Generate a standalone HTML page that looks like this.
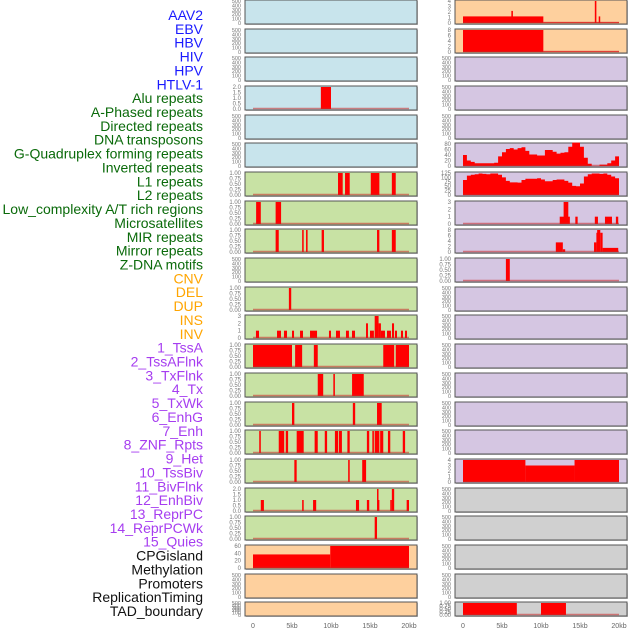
<!DOCTYPE html>
<html><head><meta charset="utf-8"><style>
html,body{margin:0;padding:0;background:#fff;}
svg{display:block;font-family:"Liberation Sans",sans-serif;}
</style></head><body>
<svg id="chart" width="630" height="630" viewBox="0 0 630 630" xmlns="http://www.w3.org/2000/svg"></svg>
<script>
// ---------- data ----------
const trackLabels = ["AAV2","EBV","HBV","HIV","HPV","HTLV-1","Alu repeats","A-Phased repeats","Directed repeats","DNA transposons","G-Quadruplex forming repeats","Inverted repeats","L1 repeats","L2 repeats","Low_complexity A/T rich regions","Microsatellites","MIR repeats","Mirror repeats","Z-DNA motifs","CNV","DEL","DUP","INS","INV","1_TssA","2_TssAFlnk","3_TxFlnk","4_Tx","5_TxWk","6_EnhG","7_Enh","8_ZNF_Rpts","9_Het","10_TssBiv","11_BivFlnk","12_EnhBiv","13_ReprPC","14_ReprPCWk","15_Quies","CPGisland","Methylation","Promoters","ReplicationTiming","TAD_boundary"];
const labelGroups = ["v","v","v","v","v","v","r","r","r","r","r","r","r","r","r","r","r","r","r","s","s","s","s","s","c","c","c","c","c","c","c","c","c","c","c","c","c","c","c","o","o","o","o","o"];
const xTicks = [0,5,10,15,20];
const xTickLabels = ["0","5kb","10kb","15kb","20kb"];

// left column segments [startKb, endKb, value]
const leftSeg3 = [[8.7,10.0,2]];
const leftSeg6 = [[10.9,11.5,1],[11.8,12.4,1],[15.1,16.2,1],[17.8,18.3,1]];
const leftSeg7 = [[0.4,1.0,1],[2.9,3.6,1]];
const leftSeg8 = [[2.9,3.3,1],[6.3,6.5,1],[6.8,7.0,1],[8.8,9.1,1],[15.9,16.2,1],[17.8,18.3,1]];
const leftSeg10 = [[4.6,4.9,1]];
const leftSeg11 = [[0.38,0.77,1],[3.08,3.59,1],[3.97,4.36,1],[5.0,5.26,1],[6.03,6.41,1],[7.31,8.21,1],[9.74,10.0,1],[10.64,11.15,1],[11.92,12.3,1],[12.69,13.08,1],[14.49,14.74,2],[15.0,15.5,1],[15.6,16.1,3],[16.1,16.4,2],[16.4,16.92,1],[17.18,17.69,1],[17.82,18.08,2],[18.2,18.46,1],[18.97,19.23,1],[19.49,19.74,1]];
const leftSeg12 = [[0,5.0,1],[5.4,6.3,1],[7.8,8.3,1],[16.7,18.1,1],[18.3,20,1]];
const leftSeg13 = [[8.3,9.0,1],[10.3,10.5,1],[12.7,14.2,1]];
const leftSeg14 = [[5.0,5.3,1],[12.8,13.1,1],[15.9,16.5,1]];
const leftSeg15 = [[0.8,1.0,1],[3.3,4.0,1],[4.2,4.5,1],[5.6,6.5,1],[7.9,8.3,1],[9.2,9.5,1],[10.5,10.9,1],[11.0,11.4,1],[12.1,12.4,1],[14.6,14.9,1],[15.3,15.5,1],[15.6,16.2,1],[16.3,16.7,1],[17.3,17.6,1],[19.2,19.5,1]];
const leftSeg16 = [[5.3,5.6,1],[12.2,12.4,1],[14.0,14.5,1]];
const leftSeg17 = [[1.0,1.4,1],[6.3,6.5,1],[7.7,8.1,1],[13.2,13.6,1],[14.6,14.9,1],[15.9,16.0,2],[16.0,16.2,1],[17.6,17.8,1],[17.8,18.1,2],[19.7,20,1]];
const leftSeg18 = [[15.6,15.9,1]];
const leftSeg19 = [[0,9.9,37],[9.9,20,60]];

// right column
const rightSeg0 = [[0,10.3,1.2],[6.2,6.4,2.2],[10.3,20,0.12],[16.9,17.1,4],[17.4,17.5,1.2]];
const rightSeg1 = [[0,10.3,8],[10.3,20,0.2]];
const rightProfile5 = [40,20,15,10,10,10,10,10,12,35,50,62,65,60,65,68,55,42,42,38,38,58,58,52,45,48,50,70,85,85,70,30,8,0,0,5,5,10,20,35];
const rightProfile6 = [85,110,115,118,122,120,118,122,122,115,100,80,72,72,70,85,92,92,92,95,88,78,78,85,88,88,80,70,52,50,65,105,118,122,122,120,122,115,105,95];
const rightSeg7 = [[12.4,13.7,1],[12.9,13.5,3],[14.4,14.7,1],[16.9,17.3,1],[18.2,19.1,1],[19.6,19.9,1]];
const rightSeg8 = [[11.9,12.8,3.5],[12.8,13.1,1],[16.8,17.1,3.5],[17.1,17.2,7],[17.2,17.6,8],[17.6,17.9,7],[17.9,19.9,1.5]];
const rightSeg9 = [[5.5,6.0,1]];
const rightSeg16 = [[0,8.0,4],[8.0,14.3,3],[14.3,20,4]];
const rightSeg21 = [[0,6.9,1],[10.0,13.2,1]];

// ---------- layout / styles ----------
const COLORS = {v:"#1a1aff", r:"#0a6a0a", s:"#ffa500", c:"#a63df0", o:"#111111"};
const BG = {b:"#c8e4ec", g:"#c8e2a4", o:"#fed09e", p:"#d5c6e2", k:"#d0d0d0"};
const T500=[[0,"0"],[100,"100"],[200,"200"],[300,"300"],[400,"400"],[500,"500"]];
const T1=[[0,"0.00"],[0.25,"0.25"],[0.5,"0.50"],[0.75,"0.75"],[1,"1.00"]];
const T2=[[0,"0.0"],[0.5,"0.5"],[1,"1.0"],[1.5,"1.5"],[2,"2.0"]];
const T3=[[0,"0"],[1,"1"],[2,"2"],[3,"3"]];
const T4=[[0,"0"],[1,"1"],[2,"2"],[3,"3"],[4,"4"]];
const T8=[[0,"0"],[2,"2"],[4,"4"],[6,"6"],[8,"8"]];
const T60=[[0,"0"],[20,"20"],[40,"40"],[60,"60"]];
const T80=[[0,"0"],[20,"20"],[40,"40"],[60,"60"],[80,"80"]];
const T125=[[0,"0"],[25,"25"],[50,"50"],[75,"75"],[100,"100"],[125,"125"]];

const leftPanels = [
 {bg:"b",t:T500},{bg:"b",t:T500},{bg:"b",t:T500},{bg:"b",t:T2,s:leftSeg3},{bg:"b",t:T500},{bg:"b",t:T500},
 {bg:"g",t:T1,s:leftSeg6},{bg:"g",t:T1,s:leftSeg7},{bg:"g",t:T1,s:leftSeg8},{bg:"g",t:T500},{bg:"g",t:T1,s:leftSeg10},
 {bg:"g",t:T3,s:leftSeg11},{bg:"g",t:T1,s:leftSeg12},{bg:"g",t:T1,s:leftSeg13},{bg:"g",t:T1,s:leftSeg14},{bg:"g",t:T1,s:leftSeg15},
 {bg:"g",t:T1,s:leftSeg16},{bg:"g",t:T2,s:leftSeg17},{bg:"g",t:T1,s:leftSeg18},{bg:"o",t:T60,s:leftSeg19},{bg:"o",t:T500},{bg:"o",t:T500}
];
const rightPanels = [
 {bg:"o",t:T4,s:rightSeg0},{bg:"o",t:T8,s:rightSeg1},{bg:"p",t:T500},{bg:"p",t:T500},{bg:"p",t:T500},
 {bg:"p",t:T80,p:rightProfile5},{bg:"p",t:T125,p:rightProfile6},{bg:"p",t:T3,s:rightSeg7},{bg:"p",t:T8,s:rightSeg8},{bg:"p",t:T1,s:rightSeg9},
 {bg:"p",t:T500},{bg:"p",t:T500},{bg:"p",t:T500},{bg:"p",t:T500},{bg:"p",t:T500},{bg:"p",t:T500},{bg:"p",t:T4,s:rightSeg16},
 {bg:"k",t:T500},{bg:"k",t:T500},{bg:"k",t:T500},{bg:"k",t:T500},{bg:"k",t:T1,s:rightSeg21}
];

const svg = document.getElementById('chart');
const NS = "http://www.w3.org/2000/svg";
function mk(tag, attrs, parent){
  const e = document.createElementNS(NS, tag);
  for (const k in attrs) e.setAttribute(k, attrs[k]);
  (parent||svg).appendChild(e);
  return e;
}

// labels
const labelStep = (611-15)/(trackLabels.length-1);
trackLabels.forEach((lab,i)=>{
  const t = mk('text',{x:203,y:(15+i*labelStep+5).toFixed(1),'text-anchor':'end','font-size':14,fill:COLORS[labelGroups[i]]});
  
  
  t.textContent = lab;
});

function rowTop(i){ return Math.round(i*28.68); }
function drawPanel(p, i, px0, zeroX, side){
  const top = rowTop(i);
  const h = (i===21) ? 14 : 24;
  const w = 172;
  const kbPx = 7.8;
  const xs = kb => zeroX + kb*kbPx;
  const ymax = p.t[p.t.length-1][0];
  const y0 = top + h - 1, y1 = top + 1;
  const ys = v => y0 - (v/ymax)*(y0-y1);
  const g = mk('g',{});
  
  
  mk('rect',{x:px0+1,y:top+1,width:w,height:h,fill:'#999',opacity:0.6},g);
  mk('rect',{x:px0,y:top,width:w,height:h,fill:BG[p.bg],stroke:'#555','stroke-width':1},g);
  p.t.forEach(tk=>{
    const tx = mk('text',{x:px0-4,y:(ys(tk[0])+2).toFixed(1),'text-anchor':'end','font-size':(p.t===T500?5.5:6),fill:'#777'},g);
    tx.textContent = tk[1];
  });
  if (p.s || p.p){
    if (p.s) p.s.forEach(sg=>{
      const r = mk('rect',{x:xs(sg[0]).toFixed(2),y:ys(sg[2]).toFixed(2),width:Math.max(1.5,xs(sg[1])-xs(sg[0])).toFixed(2),height:(ys(0)-ys(sg[2])).toFixed(2),fill:'#ff0000'},g);
      
      
    });
    if (p.p){
      let d = 'M'+xs(0)+','+ys(0);
      p.p.forEach((v,k)=>{ d += ' L'+xs(k*0.5).toFixed(2)+','+ys(v).toFixed(2)+' L'+xs(k*0.5+0.5).toFixed(2)+','+ys(v).toFixed(2); });
      d += ' L'+xs(20)+','+ys(0)+' Z';
      const pa = mk('path',{d:d,fill:'#ff0000'},g);
      
      
    }
    mk('line',{x1:xs(0),x2:xs(20),y1:ys(0)-0.5,y2:ys(0)-0.5,stroke:'rgba(200,40,40,0.55)','stroke-width':1.5},g);
  }
}
leftPanels.forEach((p,i)=>drawPanel(p,i,245,253,'left'));
rightPanels.forEach((p,i)=>drawPanel(p,i,455,463,'right'));

// x axes
[[253,'left'],[463,'right']].forEach(a=>{
  xTicks.forEach((v,k)=>{
    const t = mk('text',{x:a[0]+v*7.8,y:628,'text-anchor':'middle','font-size':7,fill:'#666'});
    
    
    t.textContent = xTickLabels[k];
  });
});
</script>
</body></html>
